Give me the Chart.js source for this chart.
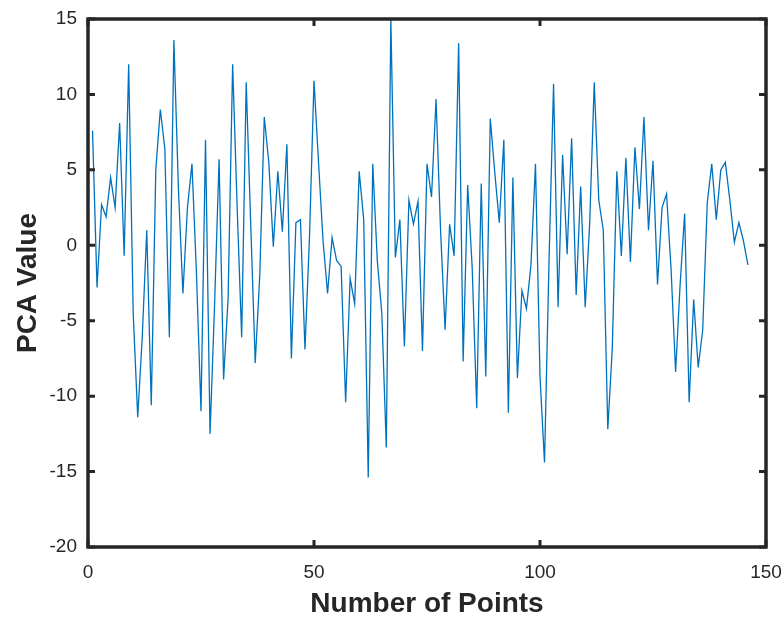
<!DOCTYPE html>
<html>
<head>
<meta charset="utf-8">
<script src="https://cdn.jsdelivr.net/npm/chart.js@4.4.0/dist/chart.umd.min.js"></script>
<style>
  html, body { margin: 0; padding: 0; background: #ffffff; }
  #wrap { width: 781px; height: 618px; }
</style>
</head>
<body>
<div id="wrap"><canvas id="pcaChart" width="781" height="618"></canvas></div>
<script>
// PCA values, one per point (x = 1, 2, 3, ...)
const pcaValues = [
    7.6, -2.8, 2.7, 1.9, 4.5, 2.5, 8.1, -0.7, 12.0, -4.5,
    -11.4, -6.1, 1.0, -10.6, 5.0, 9.0, 6.4, -6.1, 13.6, 3.8,
    -3.2, 2.5, 5.4, -1.9, -11.0, 7.0, -12.5, -4.0, 5.7, -8.9,
    -3.5, 12.0, 2.5, -6.1, 10.8, 1.4, -7.8, -2.0, 8.5, 5.5,
    -0.1, 4.9, 0.9, 6.7, -7.5, 1.5, 1.7, -6.9, 0.5, 10.9,
    5.5, 0.3, -3.2, 0.5, -1.0, -1.4, -10.4, -2.2, -3.9, 4.9,
    1.7, -15.4, 5.4, -1.0, -4.5, -13.4, 15.0, -0.8, 1.7, -6.7,
    3.0, 1.4, 2.9, -7.0, 5.4, 3.2, 9.7, 1.0, -5.6, 1.4,
    -0.7, 13.4, -7.7, 4.0, -1.5, -10.8, 4.1, -8.7, 8.4, 4.8,
    1.5, 7.0, -11.1, 4.5, -8.8, -3.0, -4.2, -1.3, 5.4, -8.7,
    -14.4, -1.0, 10.7, -4.1, 6.0, -0.6, 7.1, -3.3, 3.9, -4.1,
    1.5, 10.8, 3.0, 1.0, -12.2, -6.8, 4.9, -0.7, 5.8, -1.1,
    6.5, 2.4, 8.5, 1.0, 5.6, -2.6, 2.5, 3.4, -1.6, -8.4,
    -2.6, 2.1, -10.4, -3.6, -8.1, -5.6, 2.8, 5.4, 1.7, 5.0,
    5.5, 3.0, 0.2, 1.5, 0.3, -1.3
];
const xTicks = [0, 50, 100, 150];
const yTicks = [-20, -15, -10, -5, 0, 5, 10, 15];
const xTitle = "Number of Points";
const yTitle = "PCA Value";

const points = pcaValues.map((v, i) => ({ x: i + 1, y: v }));

// MATLAB-like box with inward tick marks
const boxPlugin = {
    id: "box",
    afterDatasetsDraw(chart) {
        const { ctx, chartArea: a, scales } = chart;
        ctx.save();
        ctx.strokeStyle = "#262626";
        ctx.lineWidth = 3;
        const len = 7;
        ctx.beginPath();
        xTicks.forEach(t => {
            const px = scales.x.getPixelForValue(t);
            ctx.moveTo(px, a.bottom); ctx.lineTo(px, a.bottom - len);
            ctx.moveTo(px, a.top); ctx.lineTo(px, a.top + len);
        });
        yTicks.forEach(t => {
            const py = scales.y.getPixelForValue(t);
            ctx.moveTo(a.left, py); ctx.lineTo(a.left + len, py);
            ctx.moveTo(a.right, py); ctx.lineTo(a.right - len, py);
        });
        ctx.stroke();
        ctx.lineWidth = 3.5;
        ctx.strokeRect(a.left, a.top, a.right - a.left, a.bottom - a.top);
        ctx.restore();
    }
};

new Chart(document.getElementById("pcaChart"), {
    type: "line",
    data: {
        datasets: [{
            data: points,
            borderColor: "#0072BD",
            borderWidth: 1.3,
            pointRadius: 0,
            tension: 0,
            fill: false
        }]
    },
    options: {
        responsive: false,
        animation: false,
        devicePixelRatio: 1,
        layout: { padding: { top: 19, right: 15, left: 0, bottom: 0 } },
        plugins: {
            legend: { display: false },
            tooltip: { enabled: false }
        },
        scales: {
            x: {
                type: "linear",
                min: 0,
                max: 150,
                afterBuildTicks: s => { s.ticks = xTicks.map(v => ({ value: v })); },
                grid: { display: false, drawTicks: false },
                border: { display: false },
                ticks: {
                    padding: 14,
                    color: "#262626",
                    font: { family: "'Liberation Sans', Arial, sans-serif", size: 19 }
                },
                title: {
                    display: true,
                    text: xTitle,
                    color: "#262626",
                    padding: { top: 0, bottom: 0 },
                    font: { family: "'Liberation Sans', Arial, sans-serif", size: 28, weight: "bold", lineHeight: 1 }
                },
                afterFit: s => {
                    s.height = 71;
                    s.paddingLeft = 0;
                    s.paddingRight = 0;
                }
            },
            y: {
                type: "linear",
                min: -20,
                max: 15,
                afterBuildTicks: s => { s.ticks = yTicks.map(v => ({ value: v })); },
                grid: { display: false, drawTicks: false },
                border: { display: false },
                ticks: {
                    padding: 11,
                    color: "#262626",
                    font: { family: "'Liberation Sans', Arial, sans-serif", size: 19 }
                },
                title: {
                    display: true,
                    text: yTitle,
                    color: "#262626",
                    padding: { top: 14, bottom: 0 },
                    font: { family: "'Liberation Sans', Arial, sans-serif", size: 28, weight: "bold", lineHeight: 1 }
                },
                afterFit: s => {
                    s.width = 88;
                    s.paddingTop = 0;
                    s.paddingBottom = 0;
                }
            }
        }
    },
    plugins: [boxPlugin]
});
</script>
</body>
</html>
